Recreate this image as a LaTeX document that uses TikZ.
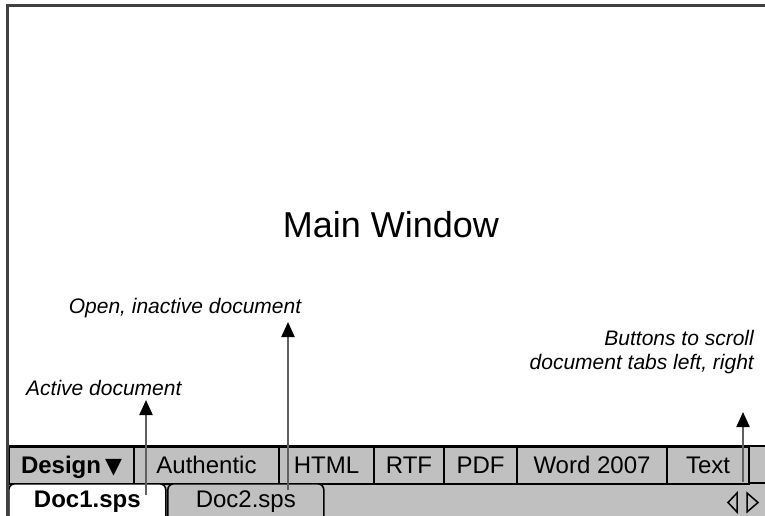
\documentclass[tikz,border=0pt]{standalone}
\usepackage{fontspec}
\setmainfont{Liberation Sans}
\newfontfamily\symfont{DejaVu Sans}
\usetikzlibrary{arrows.meta}
\definecolor{barGray}{HTML}{C0C0C0}
\definecolor{frameGray}{HTML}{404040}
\definecolor{arrowGray}{HTML}{606060}
\begin{document}
\begin{tikzpicture}[x=1pt,y=-1pt,
  btn/.style={draw=black, line width=2pt, fill=barGray, anchor=north west, inner sep=0pt,
    minimum height=37pt, text height=17pt, text depth=2pt,
    font=\fontsize{24}{26}\selectfont},
  doctab/.style={draw=black, line width=1.6pt, rounded corners=6pt, anchor=north west, inner sep=0pt,
    minimum height=40pt, text height=17pt, text depth=9pt,
    font=\fontsize{24}{26}\selectfont},
  lbl/.style={font=\fontsize{21}{24}\itshape\selectfont, inner sep=0pt},
  callout/.style={draw=arrowGray, line width=2.2pt, -{Triangle[width=13pt,length=15pt,color=black]}},
  scrollbtn/.style={draw=black, line width=1.5pt, fill=barGray, line join=miter}]
\useasboundingbox (0,0) rectangle (765,516);
\fill[white] (0,0) rectangle (765,516);
% gray strips
\fill[barGray] (8,446) rectangle (765,516);
\draw[black, line width=2pt] (8,446) -- (765,446);
\draw[black, line width=2pt] (8,483) -- (765,483);
% view buttons
\node[btn, minimum width=125pt] (design) at (8,446) {\textbf{Design}\,{\symfont\fontsize{22}{24}\selectfont ▼}};
\node[btn, minimum width=145pt] (authentic) at (133,446) {Authentic};
\node[btn, minimum width=95pt] (html) at (278,446) {HTML};
\node[btn, minimum width=70pt] (rtf) at (373,446) {RTF};
\node[btn, minimum width=73pt] (pdf) at (443,446) {PDF};
\node[btn, minimum width=150pt] (word) at (516,446) {Word 2007};
\node[btn, minimum width=82pt] (text) at (666,446) {Text};
% document tabs
\node[doctab, fill=barGray, minimum width=156pt] (doc2) at (167,483) {Doc2.sps};
\node[doctab, fill=white, minimum width=157pt] (doc1) at (8,483) {\textbf{Doc1.sps}};
% scroll buttons
\draw[scrollbtn] (737,493) -- (728,502.5) -- (737,512) -- cycle;
\draw[scrollbtn] (747,493) -- (758,502.5) -- (747,512) -- cycle;
% window frame
\draw[frameGray, line width=2.5pt] (7.5,516) -- (7.5,5.5) -- (765,5.5);
% texts
\node[inner sep=0pt, anchor=base, font=\fontsize{36}{40}\selectfont] (main) at (391,237) {Main Window};
\node[lbl, anchor=base] (openlbl) at (185,313) {Open, inactive document};
\node[lbl, anchor=base west] (activelbl) at (26,395) {Active document};
\node[lbl, anchor=base east, align=right, font=\fontsize{21}{24}\itshape\selectfont] (scrolllbl) at (754,369) {Buttons to scroll\\document tabs left, right};
% callouts
\coordinate (activeFoot) at (146,495);
\coordinate (activeTip) at (146,400);
\coordinate (openFoot) at (288,490);
\coordinate (openTip) at (288,322);
\coordinate (scrollFoot) at (743,482);
\coordinate (scrollTip) at (743,412);
\draw[callout] (activeFoot) -- (activeTip);
\draw[callout] (openFoot) -- (openTip);
\draw[callout] (scrollFoot) -- (scrollTip);
\end{tikzpicture}
\end{document}
